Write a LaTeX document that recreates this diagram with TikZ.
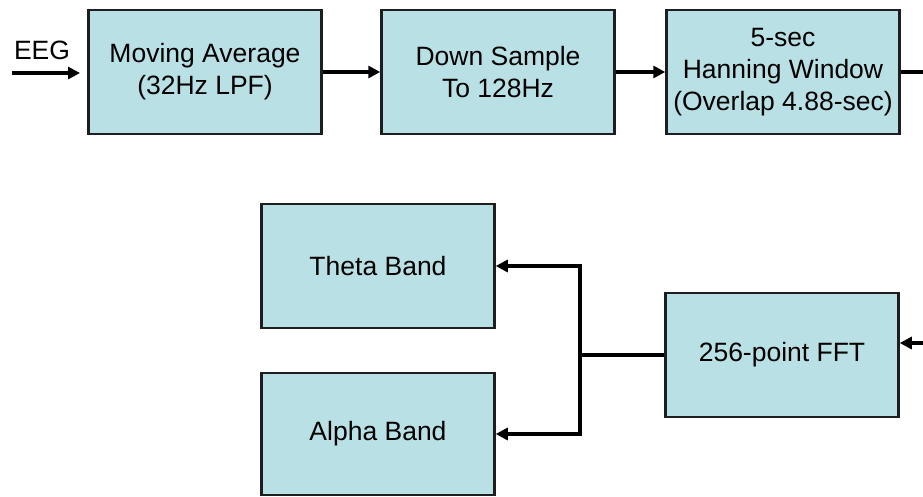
\documentclass[tikz,border=0pt]{standalone}
\usepackage{fontspec}
\setmainfont{Liberation Sans}
\usetikzlibrary{arrows.meta}
\definecolor{boxfill}{RGB}{185,224,228}
\definecolor{boxline}{RGB}{30,30,30}
\begin{document}
\begin{tikzpicture}[x=1pt,y=-1pt,
  txt/.style={font=\fontsize{26.5}{32}\selectfont},
  blk/.style={txt, draw=boxline, line width=2.5pt, fill=boxfill, minimum width=233pt,
    minimum height=124pt, inner sep=0pt, align=center},
  arr/.style={line width=3.5pt, -{Triangle[length=12pt,width=12pt]}},
  ln/.style={line width=3.5pt}]
\useasboundingbox (0,0) rectangle (923,497);
\node[blk] (ma) at (205,72) {Moving Average\\(32Hz LPF)};
\node[blk] (ds) at (498,72) {Down Sample\\To 128Hz};
\node[blk] (hw) at (783,72) {5-sec\\Hanning Window\\(Overlap 4.88-sec)};
\node[blk] (fft) at (782,355) {256-point FFT};
\node[blk] (theta) at (378,266) {Theta Band};
\node[blk, minimum height=122pt] (alpha) at (378,434) {Alpha Band};
\node[txt, anchor=base, inner sep=0pt] (eeg) at (42,60) {EEG};
\coordinate (in) at (12,73);
\coordinate (r1) at (923,72);
\coordinate (r2) at (923,343);
\coordinate (j) at (580,355);
\draw[arr] (in) -- (80,73);
\draw[arr] (ma) -- (ds);
\draw[arr] (ds) -- (hw);
\draw[ln] (hw.east) -- (r1);
\draw[arr] (r2) -- (r2 -| fft.east);
\draw[ln] (fft.west) -- (j);
\draw[arr] (j) |- (theta.east);
\draw[arr] (j) |- (alpha.east);
\end{tikzpicture}
\end{document}
